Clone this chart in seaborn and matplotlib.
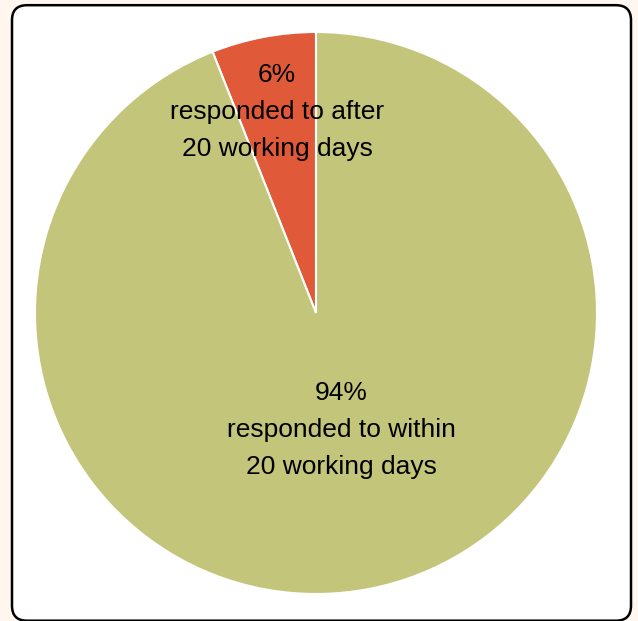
import matplotlib
matplotlib.use("Agg")
import matplotlib.pyplot as plt
from matplotlib.patches import FancyBboxPatch
import seaborn as sns

sns.set_style("white")
plt.rcParams['font.family'] = ['Liberation Sans', 'DejaVu Sans']

categories = ["responded to after\n20 working days", "responded to within\n20 working days"]
values = [6, 94]
colors = ["#E05A3A", "#C3C57A"]

W, H = 638, 621
fig = plt.figure(figsize=(W / 100, H / 100), dpi=100)
fig.patch.set_facecolor("#FFF6F0")
ax = fig.add_axes([0, 0, 1, 1])
ax.set_xlim(0, W)
ax.set_ylim(0, H)
ax.axis("off")

box = FancyBboxPatch((12, 0.3), 619, 615.5, boxstyle="round,pad=0,rounding_size=15",
                     facecolor="white", edgecolor="black", linewidth=1.8, zorder=0)
ax.add_patch(box)

cx, cy, r = 316, H - 313, 281
wedges, _ = ax.pie(values, colors=colors, startangle=90, counterclock=True,
                   center=(cx, cy), radius=r, frame=True,
                   wedgeprops=dict(edgecolor="white", linewidth=1.5))
ax.set_xlim(0, W)
ax.set_ylim(0, H)
ax.axis("off")
ax.set_aspect("auto")

label_pos = [(277, H - 112), (341, H - 430)]
for v, c, (x, y) in zip(values, categories, label_pos):
    ax.text(x, y, f"{v}%\n{c}", ha="center", va="center", fontsize=19,
            linespacing=1.7, color="black")

fig.savefig("out.png", dpi=100, facecolor=fig.get_facecolor())
